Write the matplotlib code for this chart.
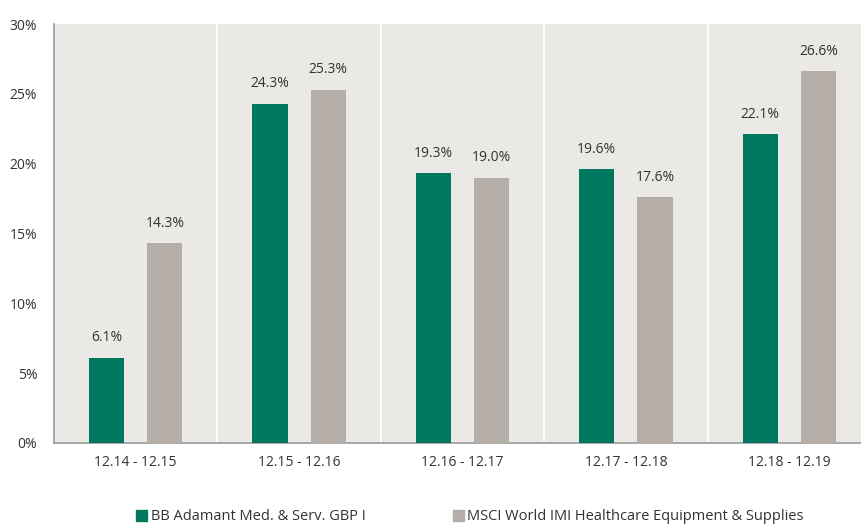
import matplotlib.pyplot as plt
import numpy as np

periods = ["12.14 - 12.15", "12.15 - 12.16", "12.16 - 12.17", "12.17 - 12.18", "12.18 - 12.19"]
fund = [6.1, 24.3, 19.3, 19.6, 22.1]
index = [14.3, 25.3, 19.0, 17.6, 26.6]
series_names = ["BB Adamant Med. & Serv. GBP I", "MSCI World IMI Healthcare Equipment & Supplies"]
yticks = [0, 5, 10, 15, 20, 25, 30]

green = "#00785f"
grey = "#b5aea8"
bg = "#ebe9e5"
txt = "#333333"

plt.rcParams['font.family'] = ['Open Sans', 'DejaVu Sans']

fig = plt.figure(figsize=(8.62, 5.25), dpi=100)
ax = fig.add_axes([54/862, 82/525, 817/862, 419/525])
ax.set_facecolor(bg)

x = np.arange(len(periods))
w = 0.215
off = 0.178
b1 = ax.bar(x - off, fund, w, color=green, zorder=3)
b2 = ax.bar(x + off, index, w, color=grey, zorder=3)

for bars, vals in ((b1, fund), (b2, index)):
    for r, v in zip(bars, vals):
        ax.annotate(f"{v:.1f}%", (r.get_x() + r.get_width()/2, v), xytext=(0, 9),
                    textcoords="offset points", ha="center", va="bottom", fontsize=10, color=txt)

# white separators between groups
for s in x[1:] - 0.5:
    ax.axvline(s, color="white", lw=1.2, zorder=2)

ax.set_xlim(-0.5, len(periods) - 0.5)
ax.set_ylim(0, 30)
ax.set_yticks(yticks)
ax.set_yticklabels([f"{t}%" for t in yticks])
ax.set_xticks(x)
ax.set_xticklabels(periods)
ax.tick_params(axis="both", length=0, labelsize=10, labelcolor=txt)
ax.tick_params(axis="x", pad=9)
ax.tick_params(axis="y", pad=12)
for sp in ["top", "right"]:
    ax.spines[sp].set_visible(False)
ax.spines["left"].set_color("#999999")
ax.spines["bottom"].set_color("#999999")
ax.spines["left"].set_linewidth(1.2)
ax.spines["bottom"].set_linewidth(1.2)

h = [plt.Rectangle((0, 0), 1, 1, color=green), plt.Rectangle((0, 0), 1, 1, color=grey)]
fig.legend(h, series_names, loc="center", bbox_to_anchor=(470/862, 1 - 517/525), ncol=2,
           frameon=False, fontsize=10.5, handlelength=0.75, handleheight=0.75, handletextpad=0.25,
           columnspacing=6.0, labelcolor=txt)

fig.savefig("out.png", dpi=100)
